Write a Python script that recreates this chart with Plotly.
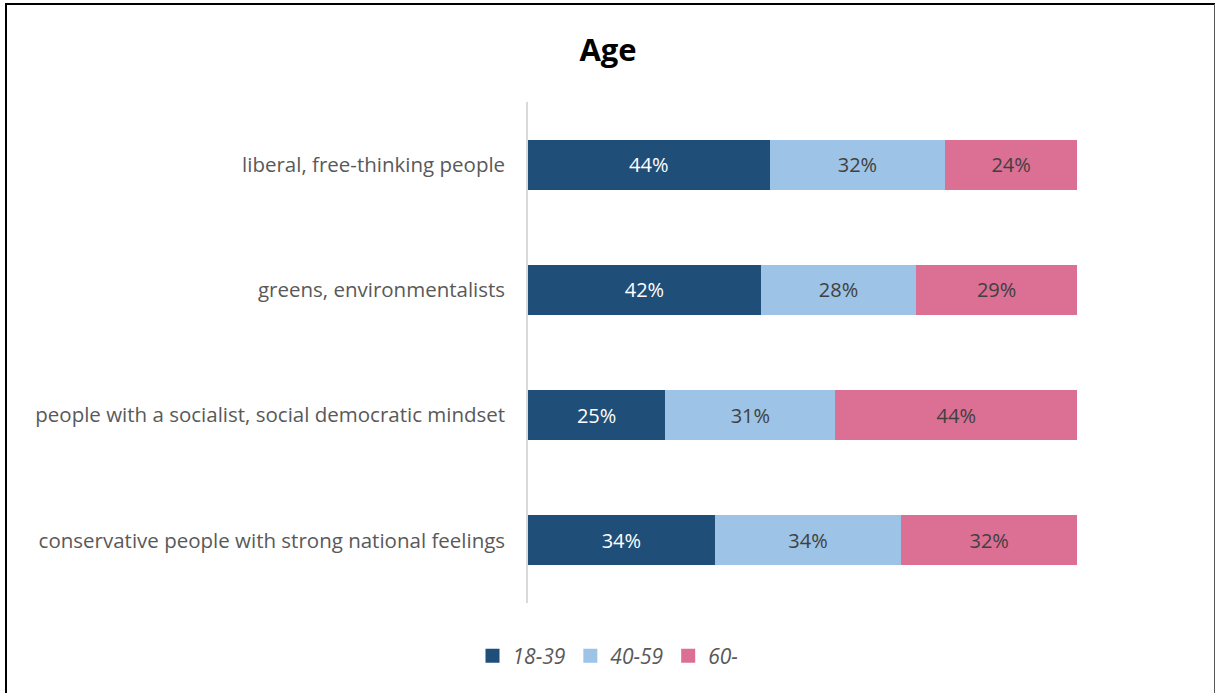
import plotly.graph_objects as go

categories = ["liberal, free-thinking people", "greens, environmentalists",
              "people with a socialist, social democratic mindset",
              "conservative people with strong national feelings"]
series_names = ["18-39", "40-59", "60-"]
v_18_39 = [44, 42, 25, 34]
v_40_59 = [32, 28, 31, 34]
v_60 = [24, 29, 44, 32]
colors = ["#1F4E79", "#9DC3E6", "#DC6F94"]
text_colors = ["#FFFFFF", "#404040", "#404040"]

FONT = "Open Sans"
fig = go.Figure()
for name, vals, col, tc in zip(series_names, [v_18_39, v_40_59, v_60], colors, text_colors):
    fig.add_trace(go.Bar(
        y=categories, x=vals, name=name, orientation="h",
        marker=dict(color=col, line=dict(width=0)),
        text=[f"{v}%" for v in vals], textposition="inside",
        insidetextanchor="middle", textangle=0,
        textfont=dict(color=tc, size=20, family=FONT),
        hoverinfo="skip", showlegend=False,
    ))
# legend entries (square markers)
for name, col in zip(series_names, colors):
    fig.add_trace(go.Scatter(
        x=[None], y=[None], mode="markers", name=name,
        marker=dict(symbol="square", size=14, color=col),
        hoverinfo="skip", showlegend=True,
    ))

W, H = 1216, 693
L, R, T, B = 528, 139, 102, 90
pw, ph = W - L - R, H - T - B

def px(x):
    return (x - L) / pw

def py(y):
    return (H - B - y) / ph

fig.update_layout(
    width=W, height=H, barmode="stack", barnorm="percent", bargap=0.6,
    margin=dict(l=L, r=R, t=T, b=B, autoexpand=False),
    paper_bgcolor="white", plot_bgcolor="white",
    title=dict(text="<b>Age</b>", x=0.5, xref="container", xanchor="center",
               y=1 - 50 / H, yref="container", yanchor="middle",
               font=dict(size=31, color="#000000", family=FONT)),
    xaxis=dict(range=[0, 100], visible=False, showgrid=False, zeroline=False),
    yaxis=dict(categoryorder="array", categoryarray=categories[::-1],
               showline=True, linecolor="#D9D9D9", linewidth=1.5,
               showgrid=False, ticks="", ticklabelstandoff=17,
               tickfont=dict(size=20.5, color="#595959", family=FONT)),
    legend=dict(orientation="h", x=0.5, xref="container", xanchor="center",
                y=1 - 656 / H, yref="container", yanchor="middle",
                font=dict(size=21, color="#595959", family=FONT, style="italic"),
                traceorder="normal", itemwidth=30),
    showlegend=True,
    font=dict(family=FONT),
)

shapes = [
    dict(type="line", xref="paper", yref="paper", x0=px(6), x1=px(6), y0=py(3), y1=py(700),
         line=dict(color="black", width=2)),
    dict(type="line", xref="paper", yref="paper", x0=px(5), x1=px(1215), y0=py(4), y1=py(4),
         line=dict(color="black", width=2)),
    dict(type="line", xref="paper", yref="paper", x0=px(1214.5), x1=px(1214.5), y0=py(4), y1=py(700),
         line=dict(color="#595959", width=1)),
]
fig.update_layout(shapes=shapes)

fig.write_html("out.html", config={"displayModeBar": False},
               post_script="document.body.style.margin='0';")
